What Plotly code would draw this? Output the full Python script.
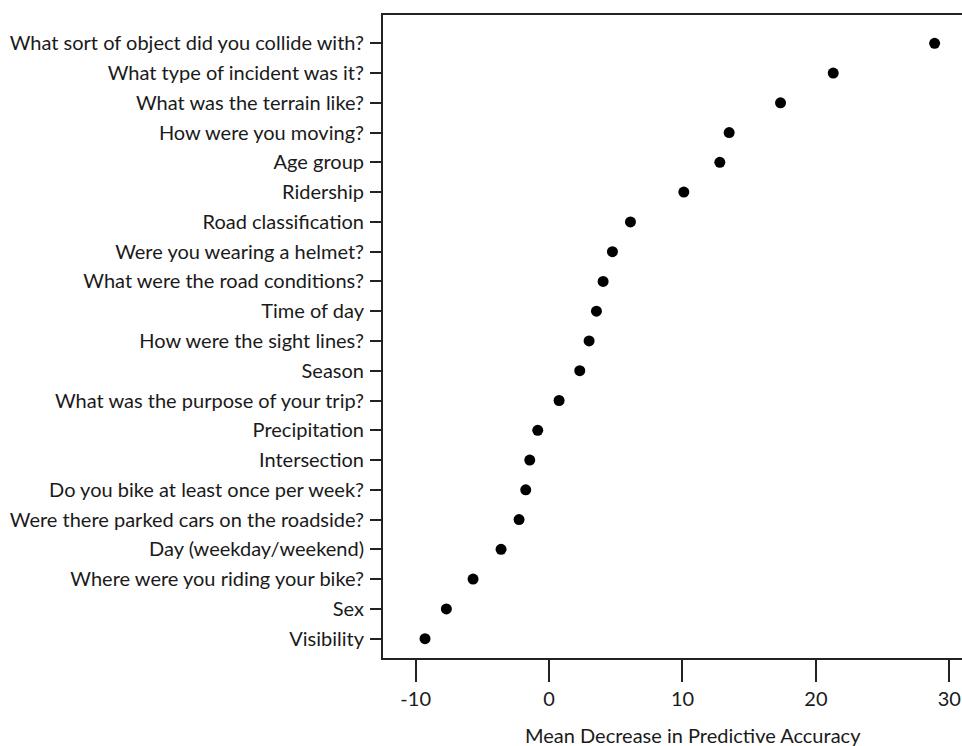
import plotly.graph_objects as go

# Rows listed top-to-bottom as in the reference
questions = [
    "What sort of object did you collide with?",
    "What type of incident was it?",
    "What was the terrain like?",
    "How were you moving?",
    "Age group",
    "Ridership",
    "Road classification",
    "Were you wearing a helmet?",
    "What were the road conditions?",
    "Time of day",
    "How were the sight lines?",
    "Season",
    "What was the purpose of your trip?",
    "Precipitation",
    "Intersection",
    "Do you bike at least once per week?",
    "Were there parked cars on the roadside?",
    "Day (weekday/weekend)",
    "Where were you riding your bike?",
    "Sex",
    "Visibility",
]
mean_decrease = [
    28.9, 21.3, 17.35, 13.5, 12.8, 10.1, 6.1, 4.75, 4.05, 3.55,
    3.0, 2.3, 0.75, -0.85, -1.45, -1.75, -2.25, -3.6, -5.7, -7.7, -9.3,
]
x_ticks = [-10, 0, 10, 20, 30]
x_title = "Mean Decrease in Predictive Accuracy"

# The reference's plot box runs past the right edge of the picture, so the
# figure is made a little wider than the 962px window (the overflow is hidden).
W, H = 982, 746
L, R, T = 383, 0, 15
B = H - 658
FONT = "Lato"
FS = 20
PX_PER_UNIT = 13.34
x_lo = -12.45
x_hi = x_lo + (W - L - R) / PX_PER_UNIT

fig = go.Figure(
    go.Scatter(
        x=mean_decrease,
        y=questions,
        mode="markers",
        marker=dict(color="black", size=11),
        showlegend=False,
        hoverinfo="skip",
    )
)

fig.update_layout(
    width=W,
    height=H,
    margin=dict(l=L, r=R, t=T, b=B, pad=0),
    paper_bgcolor="white",
    plot_bgcolor="white",
    font=dict(family=FONT, size=FS, color="#1a1a1a"),
    hovermode=False,
    dragmode=False,
)

fig.update_xaxes(
    range=[x_lo, x_hi],
    tickmode="array",
    tickvals=x_ticks,
    ticktext=[str(v) for v in x_ticks],
    ticks="outside",
    ticklen=22,
    tickwidth=2,
    tickcolor="#222",
    showline=True,
    linewidth=2,
    linecolor="#222",
    mirror=True,
    showgrid=False,
    zeroline=False,
    tickfont=dict(family=FONT, size=FS),
)
fig.update_yaxes(
    categoryorder="array",
    categoryarray=questions[::-1],
    range=[-0.65, len(questions) - 1 + 0.95],
    ticks="outside",
    ticklen=11,
    tickwidth=2,
    tickcolor="#222",
    showline=True,
    linewidth=2,
    linecolor="#222",
    mirror=False,
    showgrid=False,
    zeroline=False,
    ticklabelstandoff=2,
    tickfont=dict(family=FONT, size=FS),
)

plot_h = H - T - B
fig.add_annotation(
    text=x_title,
    xref="paper",
    yref="paper",
    x=(693 - L) / (W - L - R),
    y=-(735 - (H - B)) / plot_h,
    xanchor="center",
    yanchor="middle",
    showarrow=False,
    font=dict(family=FONT, size=FS, color="#1a1a1a"),
)

fig.write_html(
    "out.html",
    config={"displayModeBar": False, "staticPlot": True},
    post_script=(
        "document.body.style.margin='0';"
        "document.documentElement.style.overflow='hidden';"
        "document.body.style.overflow='hidden';"
    ),
)
